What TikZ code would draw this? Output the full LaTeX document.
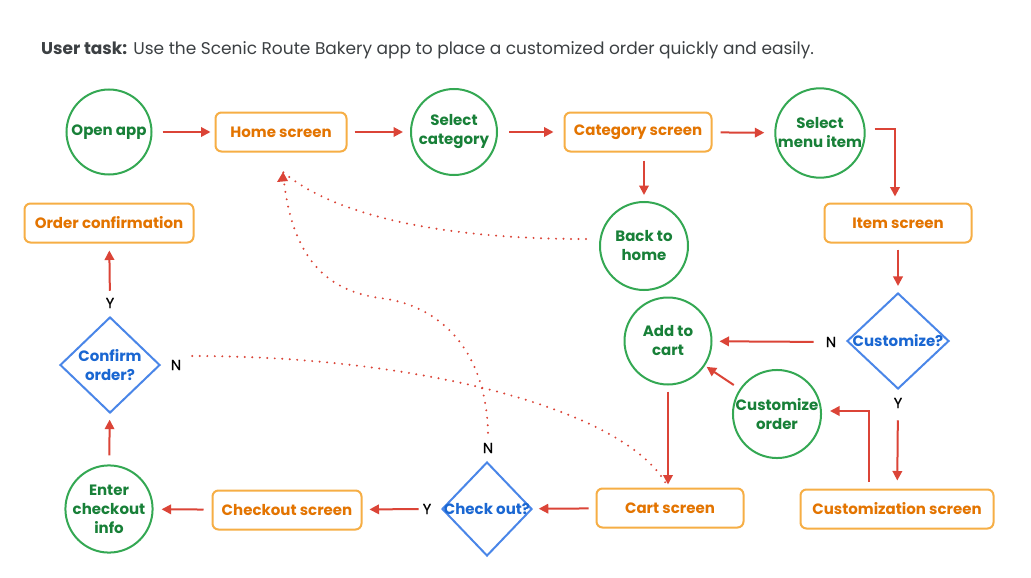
\documentclass[tikz,border=0pt]{standalone}
\usepackage{fontspec}
\setmainfont{Poppins}
\newfontfamily\lblfont{Poppins}[FakeBold=0.7]
\usetikzlibrary{arrows.meta,shapes.geometric}
\definecolor{gcircle}{HTML}{34A853}
\definecolor{gtext}{HTML}{188038}
\definecolor{obox}{HTML}{F6AE45}
\definecolor{otext}{HTML}{E37400}
\definecolor{bdia}{HTML}{4A86E8}
\definecolor{btext}{HTML}{1A67D2}
\definecolor{rarrow}{HTML}{DB4437}
\definecolor{titlec}{HTML}{3C4043}
\tikzset{
  circ/.style={circle,draw=gcircle,line width=2pt,minimum size=#1,inner sep=0pt,text=gtext,
    font=\fontsize{15}{19}\selectfont\bfseries,align=center},
  scrbox/.style={rectangle,rounded corners=6pt,draw=obox,line width=2pt,minimum width=#1,minimum height=39pt,
    inner sep=0pt,text=otext,font=\fontsize{15}{18}\selectfont\bfseries},
  dia/.style={diamond,draw=bdia,line width=2pt,minimum width=102pt,minimum height=96pt,inner sep=0pt},
  diatext/.style={text=btext,font=\fontsize{15}{19}\selectfont\bfseries,align=center,inner sep=0pt},
  lbl/.style={text=black,font=\fontsize{14.5}{16}\lblfont,inner sep=1pt},
  arr/.style={draw=rarrow,line width=2pt,-{Triangle[length=9.5pt,width=9.5pt]}},
  dotline/.style={draw=rarrow,line width=2.2pt,line cap=round,dash pattern=on 0pt off 7.5pt},
}
\begin{document}
\begin{tikzpicture}[x=1pt,y=-1pt]
\useasboundingbox (0,0) rectangle (1031,578);
\fill[white] (0,0) rectangle (1031,578);
\node[anchor=base west,inner sep=0pt,text=titlec,font=\fontsize{17}{20}\selectfont] (title) at (41,55)
  {\textbf{User task:} Use the Scenic Route Bakery app to place a customized order quickly and easily.};
% row 1
\node[circ=85pt] (open) at (109,132) {Open app};
\node[scrbox=131pt] (home) at (281,132) {Home screen};
\node[circ=86pt] (selcat) at (454,132) {Select\\category};
\node[scrbox=147pt] (catscr) at (638,132) {Category screen};
\node[circ=87pt] (selmenu) at (820,133) {Select\\menu item};
% right column
\node[scrbox=147pt] (item) at (898,223) {Item screen};
\node[dia] (cust) at (898,341) {};
\node[diatext] (custt) at (898,341) {Customize?};
\node[lbl] (cN) at (831,342) {N};
\node[lbl] (cY) at (898,403) {Y};
\node[scrbox=193pt] (custscr) at (897,509) {Customization screen};
\node[circ=88pt] (custord) at (777,414) {Customize\\order};
\node[circ=87pt] (addcart) at (668,341) {Add to\\cart};
\node[circ=88pt] (back) at (644,246) {Back to\\home};
\node[scrbox=147pt] (cart) at (670,508) {Cart screen};
\node[dia,minimum width=90pt,minimum height=94pt] (chk) at (487,509) {};
\node[diatext] (chkt) at (487,509) {Check out?};
\node[lbl] (chkY) at (427,509) {Y};
\node[lbl] (chkN) at (488,448) {N};
\node[scrbox=149pt] (chkscr) at (287,510) {Checkout screen};
\node[circ=87pt] (enter) at (109,509) {Enter\\checkout\\info};
\node[dia,minimum width=100pt,minimum height=96pt] (conf) at (110,365) {};
\node[diatext] (conft) at (110,365) {Confirm\\order?};
\node[lbl] (confY) at (110,303) {Y};
\node[lbl] (confN) at (176,365) {N};
\node[scrbox=169pt] (ordconf) at (109,223) {Order confirmation};
\coordinate (hometip) at (283,172);
% solid arrows
\draw[arr,shorten <=10pt,shorten >=4pt] (open) -- (home);
\draw[arr,shorten <=7pt,shorten >=7pt] (home) -- (selcat);
\draw[arr,shorten <=11pt,shorten >=10pt] (selcat) -- (catscr);
\draw[arr,shorten <=8pt,shorten >=10pt] (catscr) -- (selmenu);
\draw[arr,shorten >=6pt] ([xshift=9pt,yshift=4pt]selmenu.east) -| ([xshift=-3pt]item.north);
\draw[arr,shorten <=8pt,shorten >=6pt] (back|-catscr.south) -- (back.north);
\draw[arr,shorten <=6pt,shorten >=6pt] (item) -- (cust);
\draw[arr,shorten <=11pt,shorten >=7pt] (cN) -- (addcart);
\draw[arr,shorten <=11pt,shorten >=8pt] (cY) -- (custscr);
\draw[arr,shorten >=8pt] ([xshift=-28pt,yshift=7pt]custscr.north) |- ([yshift=3pt]custord.east);
\draw[arr,shorten <=7pt,shorten >=2pt] (custord) -- (addcart);
\draw[arr,shorten <=6pt,shorten >=3pt] (addcart) -- (addcart|-cart.north);
\draw[arr,shorten <=7pt,shorten >=6pt] (cart) -- (chk);
\draw[arr,shorten <=3pt,shorten >=7pt] (chkY) -- (chkscr);
\draw[arr,shorten <=8pt,shorten >=8pt] (chkscr) -- (enter);
\draw[arr,shorten <=9pt,shorten >=6pt] (enter) -- (conf);
\draw[arr,shorten <=6pt,shorten >=7pt] (confY) -- (ordconf);
% dotted connectors
\draw[dotline] ([xshift=-13pt,yshift=7pt]back.west) .. controls (430,239) and (330,212) .. (hometip);
\draw[dotline] ([xshift=10pt,yshift=9pt]confN.east) .. controls (420,356) and (630,410) .. (addcart|-cart.north);
\draw[dotline] ([yshift=9pt]chkN.north) .. controls (486,350) and (440,305) .. (380,298)
  .. controls (320,290) and (290,250) .. (hometip);
\fill[rarrow] (hometip) -- ++(-6,10) -- ++(11,-1) -- cycle;
\end{tikzpicture}
\end{document}
